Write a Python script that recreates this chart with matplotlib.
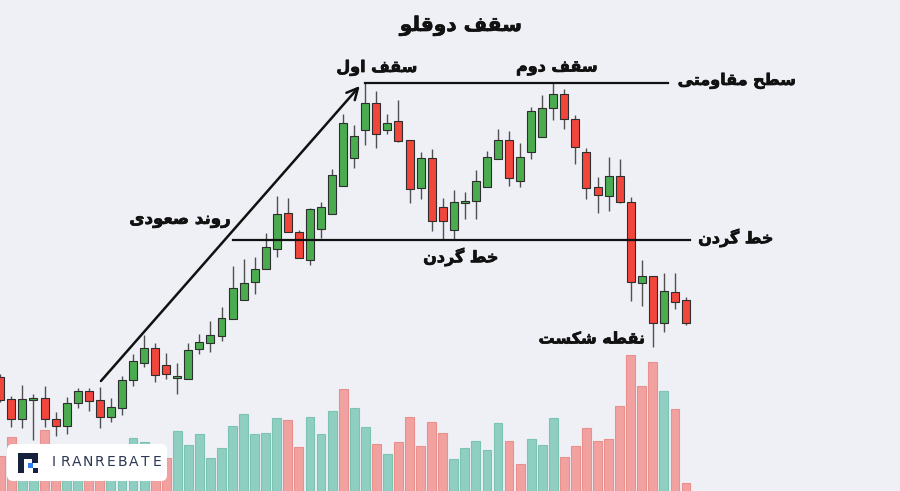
import matplotlib
matplotlib.use("Agg")
import matplotlib.pyplot as plt
import matplotlib.patheffects as pe
import numpy as np
from matplotlib.patches import FancyBboxPatch, Rectangle
from matplotlib.font_manager import FontProperties, findfont
from matplotlib import ft2font

# --- data (price units, volume units) ---
opens = [114, 92, 72, 91, 93, 72, 65, 88, 100, 91, 74, 83, 111, 128, 143, 126,
         113, 112, 142, 148, 155, 172, 191, 209, 222, 242, 278, 259, 231, 262,
         277, 305, 333, 361, 388, 361, 370, 351, 303, 333, 284, 261, 288, 290,
         304, 332, 351, 310, 339, 354, 383, 397, 372, 339, 304, 295, 315, 289,
         208, 215, 168, 199, 191]
highs = [117, 95, 106, 97, 105, 79, 94, 103, 103, 104, 93, 115, 137, 156, 148, 138,
         128, 148, 157, 170, 184, 225, 232, 234, 258, 295, 293, 261, 283, 289,
         322, 377, 366, 408, 400, 377, 391, 351, 339, 342, 293, 301, 299, 321,
         340, 362, 360, 348, 384, 396, 408, 402, 376, 343, 314, 334, 332, 294,
         231, 215, 218, 218, 194]
lows = [89, 64, 63, 51, 64, 55, 57, 83, 80, 63, 69, 76, 105, 124, 109, 112,
        97, 112, 137, 139, 150, 172, 191, 197, 222, 234, 259, 233, 226, 253,
        277, 305, 323, 346, 343, 357, 349, 288, 292, 260, 251, 251, 272, 272,
        304, 332, 305, 304, 332, 354, 371, 362, 327, 292, 278, 280, 288, 190,
        185, 144, 159, 182, 166]
closes = [91, 72, 92, 93, 72, 65, 88, 100, 90, 74, 84, 111, 130, 143, 116, 117,
          115, 141, 149, 156, 173, 203, 208, 222, 244, 277, 259, 233, 282, 284,
          316, 368, 355, 388, 357, 368, 350, 302, 333, 270, 270, 289, 290, 310,
          334, 351, 313, 334, 380, 383, 397, 372, 344, 303, 296, 315, 289, 209,
          215, 168, 200, 189, 168]
volumes = [35, 54, 30, 42, 61, 26, 36, 33, 29, 36, 24, 40, 53, 49, 38, 33,
           60, 46, 57, 33, 43, 65, 77, 57, 58, 73, 71, 44, 74, 57,
           80, 102, 83, 64, 47, 37, 49, 74, 45, 69, 58, 32, 43, 50,
           41, 68, 50, 27, 52, 46, 73, 34, 45, 63, 50, 52, 85, 136,
           105, 129, 100, 82, 8]
volume_up = "rrggrrggrrggggrrggggggggggrrgggrggrgrrrrrgggggrrgggrrrrrrrrrgrr"

resistance = 408
neckline = 251

labels = {
    "title": "سقف دوقلو",
    "top1": "سقف اول",
    "top2": "سقف دوم",
    "resist": "سطح مقاومتی",
    "trend": "روند صعودی",
    "neck": "خط گردن",
    "brk": "نقطه شکست",
}

# --- simple Persian shaping (matplotlib has no Arabic shaping) ---
font_path = findfont(FontProperties(family="DejaVu Sans", weight="bold"))
cmap = ft2font.FT2Font(font_path).get_charmap()


def pick(forms, fallback):
    return forms if all(ord(c) in cmap for c in forms) else fallback


FORMS = {
    "ا": ("\uFE8D", "\uFE8E", None, None),
    "د": ("\uFEA9", "\uFEAA", None, None),
    "ر": ("\uFEAD", "\uFEAE", None, None),
    "و": ("\uFEED", "\uFEEE", None, None),
    "س": ("\uFEB1", "\uFEB2", "\uFEB3", "\uFEB4"),
    "ش": ("\uFEB5", "\uFEB6", "\uFEB7", "\uFEB8"),
    "ص": ("\uFEB9", "\uFEBA", "\uFEBB", "\uFEBC"),
    "ط": ("\uFEC1", "\uFEC2", "\uFEC3", "\uFEC4"),
    "ع": ("\uFEC9", "\uFECA", "\uFECB", "\uFECC"),
    "ف": ("\uFED1", "\uFED2", "\uFED3", "\uFED4"),
    "ق": ("\uFED5", "\uFED6", "\uFED7", "\uFED8"),
    "ل": ("\uFEDD", "\uFEDE", "\uFEDF", "\uFEE0"),
    "م": ("\uFEE1", "\uFEE2", "\uFEE3", "\uFEE4"),
    "ن": ("\uFEE5", "\uFEE6", "\uFEE7", "\uFEE8"),
    "ه": ("\uFEE9", "\uFEEA", "\uFEEB", "\uFEEC"),
    "ت": ("\uFE95", "\uFE96", "\uFE97", "\uFE98"),
    "ح": ("\uFEA1", "\uFEA2", "\uFEA3", "\uFEA4"),
    "خ": ("\uFEA5", "\uFEA6", "\uFEA7", "\uFEA8"),
    "ی": pick(("\uFBFC", "\uFBFD", "\uFBFE", "\uFBFF"),
              ("\uFEEF", "\uFEF0", "\uFEF3", "\uFEF4")),
    "ک": pick(("\uFB8E", "\uFB8F", "\uFB90", "\uFB91"),
              ("\uFED9", "\uFEDA", "\uFEDB", "\uFEDC")),
    "گ": pick(("\uFB92", "\uFB93", "\uFB94", "\uFB95"),
              ("\uFED9", "\uFEDA", "\uFEDB", "\uFEDC")),
}
RIGHT_ONLY = set("ادذرزژو")


def fa(text):
    out = []
    for i, ch in enumerate(text):
        if ch not in FORMS:
            out.append(ch)
            continue
        prev = text[i - 1] if i > 0 else ""
        nxt = text[i + 1] if i + 1 < len(text) else ""
        jp = prev in FORMS and prev not in RIGHT_ONLY
        jn = ch not in RIGHT_ONLY and nxt in FORMS
        iso, fin, ini, med = FORMS[ch]
        out.append(med if jp and jn else fin if jp else ini if jn else iso)
    return "".join(reversed(out))


# --- figure ---
W, H = 900, 491
X0, DX = 0.3, 11.06
bg = "#eef0f6"
green, red = "#4aab4f", "#f2453b"

fig = plt.figure(figsize=(9, 4.91), dpi=100, facecolor=bg)
ax = fig.add_axes([0, 0, 1, 1])
ax.set_facecolor(bg)
ax.set_xlim(-X0 / DX, (W - X0) / DX)
ax.set_ylim(0, H)
ax.axis("off")


def px(x, y):
    return (x - X0) / DX, H - y


idx = np.arange(len(opens))
o, hi, lo, c = map(np.array, (opens, highs, lows, closes))

# volume
vcol = ["#8fcfc2" if v == "g" else "#f1a2a0" for v in volume_up]
vedge = ["#7cc3b4" if v == "g" else "#e98f8c" for v in volume_up]
ax.bar(idx, volumes, width=0.8, color=vcol, edgecolor=vedge, linewidth=0.8, zorder=1)

# candles
up = c >= o
ccol = np.where(up, green, red)
ax.vlines(idx, lo, hi, color="#505050", linewidth=1.0, zorder=2)
ax.bar(idx, np.maximum(np.abs(c - o), 1.5), bottom=np.minimum(o, c), width=0.72,
       color=ccol, edgecolor="#2e2e2e", linewidth=0.8, zorder=3)

# resistance line and neckline
ax.plot([33, 60.4], [resistance, resistance], color="#111111", lw=1.6, zorder=4)
ax.plot([21.0, 62.4], [neckline, neckline], color="#111111", lw=1.6, zorder=4)

# uptrend arrow
ax.annotate("", xy=(32.5, 405), xytext=(9.1, 110),
            arrowprops=dict(arrowstyle="->", lw=1.8, color="#111111",
                            mutation_scale=20, shrinkA=0, shrinkB=0), zorder=4)

bold = [pe.withStroke(linewidth=0.5, foreground="#111111")]
tk = dict(family="DejaVu Sans", fontweight="bold", color="#111111",
          ha="center", va="center", zorder=6, path_effects=bold)
ax.text(*px(461, 26), fa(labels["title"]), fontsize=14.5, **tk)
ax.text(*px(377, 68), fa(labels["top1"]), fontsize=11.5, **tk)
ax.text(*px(557, 68), fa(labels["top2"]), fontsize=11.5, **tk)
ax.text(*px(737, 81), fa(labels["resist"]), fontsize=11.5, **tk)
ax.text(*px(180, 219), fa(labels["trend"]), fontsize=12, **tk)
ax.text(*px(461, 257), fa(labels["neck"]), fontsize=11.5, **tk)
ax.text(*px(736, 238), fa(labels["neck"]), fontsize=11.5, **tk)
ax.text(*px(592, 339), fa(labels["brk"]), fontsize=11.5, **tk)

# logo badge
tr = fig.dpi_scale_trans


def inch(x, y):
    return x / 100, (H - y) / 100


ax.add_patch(FancyBboxPatch(inch(9, 479), 1.56, 0.33,
                            boxstyle="round,pad=0.02,rounding_size=0.06",
                            transform=tr, facecolor="white", edgecolor="none", zorder=8))
navy = "#16223d"
for (x, y, w, h), col in [((18, 473, 6, 20), navy), ((18, 459, 17, 6), navy),
                          ((32, 463, 6, 10), navy), ((33, 473, 5, 5), navy),
                          ((28, 468, 5, 5), "#2e7cf6")]:
    ax.add_patch(Rectangle(inch(x, y), w / 100, h / 100, transform=tr,
                           facecolor=col, edgecolor="none", zorder=9))
for k, ch in enumerate("IRANREBATE"):
    ax.text(*inch(54 + k * 11.4, 462), ch, transform=tr, fontsize=10,
            color="#2b3754", ha="center", va="center", family="DejaVu Sans", zorder=9)

fig.savefig("out.png", dpi=100, facecolor=bg)
